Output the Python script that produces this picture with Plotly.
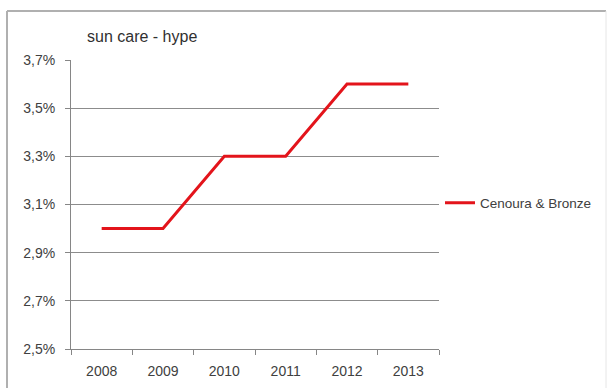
import plotly.graph_objects as go

years = ["2008", "2009", "2010", "2011", "2012", "2013"]
values = [0.030, 0.030, 0.033, 0.033, 0.036, 0.036]
series_name = "Cenoura & Bronze"
title_text = "sun care - hype"

W, H = 607, 388
L, R, T, B = 71, 439, 60, 349
pw, ph = R - L, B - T

def px(x):
    return (x - L) / pw

def py(y):
    return (B - y) / ph

FONT = "Liberation Sans, Arial, sans-serif"

fig = go.Figure()
fig.add_trace(go.Scatter(
    x=years, y=values, mode="lines", name=series_name,
    line=dict(color="#e3141b", width=3),
))

fig.update_layout(
    width=W, height=H,
    margin=dict(l=L, r=W - R, t=T, b=H - B, autoexpand=False),
    paper_bgcolor="white", plot_bgcolor="white",
    separators=", ",
    font=dict(family=FONT, color="#404040", size=14),
    showlegend=True,
    legend=dict(x=px(440), y=py(203), xanchor="left", yanchor="middle",
                bgcolor="rgba(0,0,0,0)", font=dict(family=FONT, size=13.5, color="#404040"),
                itemwidth=30, tracegroupgap=0),
    xaxis=dict(type="category", range=[-0.5, 5.5], showgrid=False,
               showline=True, linecolor="#868686", linewidth=1,
               ticks="outside", tickson="boundaries", ticklen=5, tickcolor="#868686",
               ticklabelstandoff=9,
               tickfont=dict(family=FONT, size=14, color="#404040"), fixedrange=True),
    yaxis=dict(range=[0.025, 0.037], dtick=0.002, tick0=0.025, tickformat=".1%",
               showgrid=True, gridcolor="#8c8c8c", gridwidth=1,
               showline=True, linecolor="#868686", linewidth=1,
               ticks="outside", ticklen=5, tickcolor="#868686",
               ticklabelstandoff=7,
               tickfont=dict(family=FONT, size=14, color="#404040"), zeroline=False),
    annotations=[dict(text=title_text, xref="paper", yref="paper",
                      x=px(142), y=py(36), xanchor="center", yanchor="middle",
                      showarrow=False, font=dict(family=FONT, size=16, color="#303030"))],
    shapes=[
        dict(type="line", xref="paper", yref="paper", x0=px(7), x1=px(606), y0=py(11), y1=py(11),
             line=dict(color="#b0b0b0", width=2)),
        dict(type="line", xref="paper", yref="paper", x0=px(7), x1=px(7), y0=py(11), y1=py(392),
             line=dict(color="#b0b0b0", width=2)),
        dict(type="line", xref="paper", yref="paper", x0=px(606), x1=px(606), y0=py(11), y1=py(392),
             line=dict(color="#e6e6e6", width=1)),
    ],
)

fig.write_html("out.html")
